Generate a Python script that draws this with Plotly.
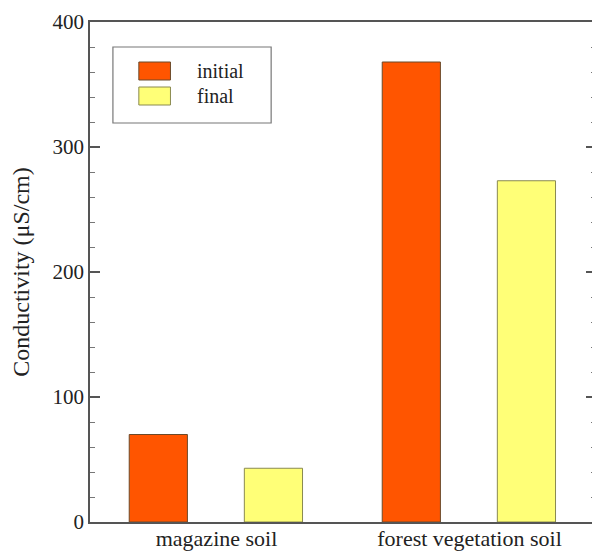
import plotly.graph_objects as go

categories = ["magazine soil", "forest vegetation soil"]
initial_values = [70, 368]
final_values = [43, 273]
series_names = ["initial", "final"]
y_title = "Conductivity (μS/cm)"

C_INIT = "#FF5500"
C_FINAL = "#FFFF77"
SERIF = "Liberation Serif, Times New Roman, serif"

fig = go.Figure()
fig.add_trace(go.Bar(x=categories, y=initial_values, name=series_names[0],
                     marker=dict(color=C_INIT, line=dict(color="#6b4a2a", width=1)),
                     width=0.23, offset=-0.345, showlegend=False))
fig.add_trace(go.Bar(x=categories, y=final_values, name=series_names[1],
                     marker=dict(color=C_FINAL, line=dict(color="#8a8a50", width=1)),
                     width=0.23, offset=0.11, showlegend=False))

# legend drawn as box + swatches + text (paper coords)
fig.add_shape(type="rect", xref="paper", yref="paper", x0=0.0453, x1=0.358, y0=0.798, y1=0.950,
              line=dict(color="#777", width=1.2), fillcolor="white", layer="above")
fig.add_shape(type="rect", xref="paper", yref="paper", x0=0.0965, x1=0.159, y0=0.884, y1=0.920,
              line=dict(color="#6b4a2a", width=1), fillcolor=C_INIT, layer="above")
fig.add_shape(type="rect", xref="paper", yref="paper", x0=0.0965, x1=0.159, y0=0.834, y1=0.870,
              line=dict(color="#8a8a50", width=1), fillcolor=C_FINAL, layer="above")
for name, yy in zip(series_names, [0.902, 0.852]):
    fig.add_annotation(text=name, xref="paper", yref="paper", x=0.208, y=yy,
                       xanchor="left", yanchor="middle", showarrow=False,
                       font=dict(family=SERIF, size=20, color="#222"))

# page body has an 8px margin, so the figure is sized/offset to compensate
fig.update_layout(
    width=592, height=545,
    margin=dict(l=82, r=2, t=13, b=31),
    plot_bgcolor="white", paper_bgcolor="white",
    barmode="group",
    font=dict(family=SERIF, color="#222"),
)
fig.update_xaxes(showline=True, linecolor="#555", linewidth=1.5, mirror=True,
                 ticks="", tickfont=dict(family=SERIF, size=22, color="#222"),
                 ticklabelstandoff=-4,
                 showgrid=False, automargin=False)
fig.update_yaxes(range=[0, 400], dtick=100, showline=True, linecolor="#555", linewidth=1.5,
                 mirror="ticks", ticks="inside", ticklen=10, tickcolor="#555", tickwidth=1.5,
                 minor=dict(dtick=20, ticks="inside", ticklen=5, tickcolor="#777", tickwidth=1),
                 showgrid=False, zeroline=False, automargin=True,
                 tickfont=dict(family=SERIF, size=21, color="#222"),
                 title=dict(text=y_title, font=dict(family=SERIF, size=24, color="#222"), standoff=17))

fig.write_html("out.html")
